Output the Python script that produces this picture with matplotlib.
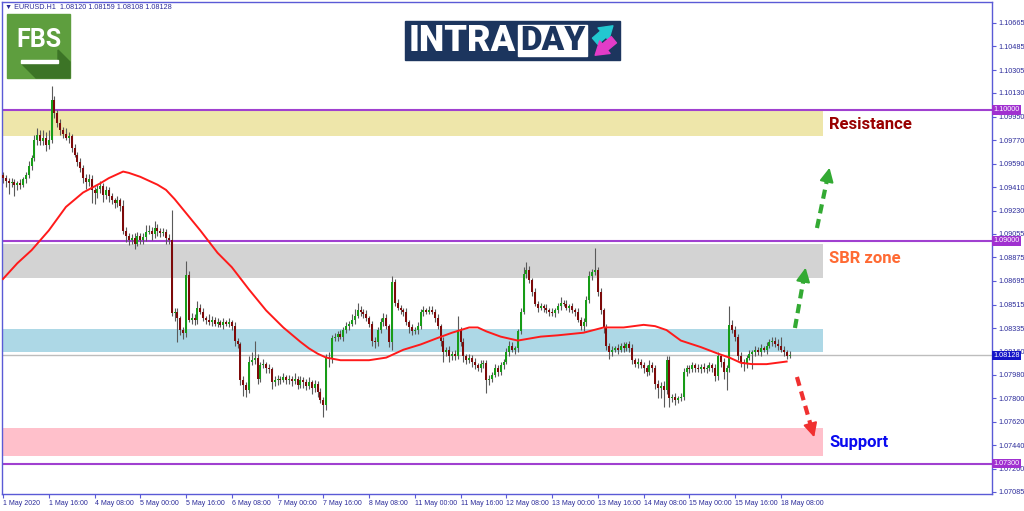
import matplotlib
matplotlib.use('Agg')
import numpy as np
import matplotlib.pyplot as plt
import matplotlib.transforms as mtransforms
from matplotlib.patches import Rectangle, Polygon

# ---- data (1 May - 18 May 2020) ----
first_open = 1.0950
closes = [
    1.0948, 1.0946, 1.0944, 1.0945, 1.0943, 1.0944, 1.0943, 1.0947, 1.0950, 1.0957,
    1.0963, 1.0977, 1.0981, 1.0976, 1.0979, 1.0973, 1.0977, 1.1008, 1.0998, 1.0990,
    1.0985, 1.0982, 1.0979, 1.0980, 1.0971, 1.0966, 1.0960, 1.0956, 1.0948, 1.0945,
    1.0947, 1.0939, 1.0937, 1.0940, 1.0942, 1.0935, 1.0939, 1.0934, 1.0931, 1.0929,
    1.0931, 1.0927, 1.0908, 1.0904, 1.0901, 1.0902, 1.0898, 1.0904, 1.0901, 1.0903,
    1.0907, 1.0908, 1.0905, 1.0910, 1.0908, 1.0906, 1.0907, 1.0902, 1.0901, 1.0845,
    1.0846, 1.0841, 1.0832, 1.0830, 1.0874, 1.0840, 1.0841, 1.0840, 1.0849, 1.0846,
    1.0841, 1.0840, 1.0838, 1.0840, 1.0837, 1.0838, 1.0836, 1.0838, 1.0837, 1.0838,
    1.0835, 1.0824, 1.0821, 1.0794, 1.0790, 1.0786, 1.0808, 1.0809, 1.0811, 1.0795,
    1.0805, 1.0806, 1.0803, 1.0802, 1.0792, 1.0794, 1.0795, 1.0794, 1.0796, 1.0794,
    1.0795, 1.0793, 1.0795, 1.0790, 1.0794, 1.0792, 1.0789, 1.0792, 1.0788, 1.0791,
    1.0785, 1.0779, 1.0775, 1.0811, 1.0810, 1.0826, 1.0827, 1.0829, 1.0827, 1.0832,
    1.0835, 1.0837, 1.0840, 1.0843, 1.0847, 1.0846, 1.0844, 1.0841, 1.0837, 1.0824,
    1.0823, 1.0832, 1.0838, 1.0841, 1.0835, 1.0823, 1.0869, 1.0853, 1.0849, 1.0847,
    1.0846, 1.0838, 1.0834, 1.0831, 1.0832, 1.0835, 1.0846, 1.0847, 1.0846, 1.0847,
    1.0846, 1.0841, 1.0835, 1.0824, 1.0815, 1.0817, 1.0812, 1.0814, 1.0812, 1.0832,
    1.0823, 1.0812, 1.0809, 1.0811, 1.0808, 1.0805, 1.0803, 1.0806, 1.0807, 1.0794,
    1.0795, 1.0798, 1.0803, 1.0800, 1.0805, 1.0808, 1.0815, 1.0820, 1.0817, 1.0818,
    1.0831, 1.0846, 1.0875, 1.0878, 1.0870, 1.0861, 1.0852, 1.0849, 1.0850, 1.0849,
    1.0847, 1.0846, 1.0845, 1.0847, 1.0850, 1.0853, 1.0852, 1.0849, 1.0850, 1.0847,
    1.0846, 1.0840, 1.0835, 1.0838, 1.0855, 1.0873, 1.0876, 1.0878, 1.0861, 1.0847,
    1.0834, 1.0820, 1.0815, 1.0817, 1.0818, 1.0817, 1.0820, 1.0818, 1.0821, 1.0818,
    1.0809, 1.0806, 1.0808, 1.0805, 1.0803, 1.0800, 1.0805, 1.0803, 1.0791, 1.0788,
    1.0789, 1.0786, 1.0809, 1.0780, 1.0781, 1.0779, 1.0780, 1.0781, 1.0800, 1.0803,
    1.0802, 1.0805, 1.0803, 1.0802, 1.0804, 1.0802, 1.0803, 1.0805, 1.0803, 1.0797,
    1.0812, 1.0808, 1.0800, 1.0803, 1.0836, 1.0832, 1.0827, 1.0812, 1.0808, 1.0806,
    1.0811, 1.0814, 1.0815, 1.0817, 1.0815, 1.0818, 1.0817, 1.0820, 1.0823, 1.0824,
    1.0821, 1.0820, 1.0817, 1.0815, 1.0812, 1.08128,
]
# wick lengths beyond the body, in pips
upper_wick = [
    3, 2, 2, 3, 2, 2, 3, 2, 3, 4,   3, 4, 5, 4, 6, 4, 8, 10, 3, 2,
    3, 2, 4, 3, 2, 3, 2, 3, 2, 3,   4, 3, 2, 3, 4, 2, 3, 2, 3, 2,
    3, 2, 4, 3, 2, 3, 4, 3, 2, 3,   5, 4, 3, 5, 3, 2, 3, 2, 3, 23,
    3, 3, 2, 2, 11, 3, 4, 3, 5, 3,  3, 2, 4, 3, 2, 3, 2, 3, 2, 3,
    2, 3, 2, 2, 3, 2, 4, 6, 13, 3,  3, 4, 2, 3, 2, 3, 3, 2, 3, 2,
    3, 2, 4, 2, 3, 2, 3, 4, 2, 3,   2, 3, 2, 3, 4, 2, 3, 2, 3, 2,
    3, 2, 4, 5, 6, 3, 2, 3, 2, 2,   3, 2, 3, 4, 3, 2, 4, 2, 3, 2,
    2, 3, 2, 3, 2, 3, 2, 3, 2, 3,   3, 2, 3, 2, 3, 2, 3, 2, 3, 11,
    2, 3, 2, 3, 2, 3, 2, 3, 2, 2,   3, 2, 3, 2, 3, 2, 3, 4, 3, 2,
    2, 3, 5, 6, 3, 2, 3, 2, 3, 2,   3, 2, 3, 2, 3, 4, 2, 3, 2, 3,
    2, 3, 2, 3, 3, 4, 3, 17, 2, 3,  2, 3, 2, 3, 2, 3, 2, 3, 2, 3,
    3, 2, 3, 2, 3, 2, 4, 3, 2, 3,   3, 4, 3, 3, 2, 3, 2, 3, 3, 2,
    2, 3, 2, 3, 2, 3, 2, 3, 2, 3,   3, 2, 3, 2, 14, 4, 3, 2, 3, 2,
    2, 3, 2, 3, 2, 3, 2, 3, 2, 3,   3, 4, 7, 3, 2, 3,
]
lower_wick = [
    4, 5, 8, 3, 9, 4, 3, 2, 3, 2,   3, 2, 4, 3, 3, 4, 3, 2, 4, 3,
    4, 3, 2, 4, 3, 2, 3, 3, 4, 5,   3, 10, 9, 4, 3, 5, 3, 4, 3, 4,
    3, 4, 3, 5, 4, 3, 4, 2, 3, 3,   3, 2, 4, 3, 4, 3, 2, 4, 3, 2,
    6, 18, 4, 5, 3, 2, 3, 4, 3, 2,  2, 3, 2, 3, 2, 3, 2, 3, 2, 3,
    3, 4, 3, 4, 8, 5, 2, 3, 3, 4,   3, 2, 4, 3, 5, 3, 4, 3, 2, 3,
    3, 4, 2, 3, 2, 4, 3, 2, 5, 3,   4, 3, 9, 4, 6, 3, 2, 3, 2, 3,
    2, 3, 2, 3, 2, 3, 3, 2, 3, 4,   5, 3, 2, 3, 2, 4, 6, 3, 2, 3,
    3, 2, 4, 3, 2, 3, 2, 3, 2, 2,   2, 3, 2, 4, 7, 3, 4, 3, 3, 2,
    3, 4, 3, 2, 4, 3, 2, 3, 3, 10,  4, 3, 2, 3, 2, 3, 2, 3, 2, 3,
    3, 2, 2, 3, 2, 3, 2, 3, 2, 3,   2, 3, 2, 3, 2, 3, 2, 2, 3, 2,
    3, 2, 3, 4, 3, 2, 3, 2, 3, 3,   4, 3, 5, 3, 2, 3, 2, 3, 2, 3,
    3, 2, 3, 2, 4, 3, 2, 3, 4, 8,   8, 13, 3, 7, 3, 4, 3, 2, 2, 3,
    3, 2, 3, 2, 3, 2, 3, 2, 3, 4,   3, 4, 5, 14, 3, 2, 3, 3, 4, 5,
    3, 2, 12, 3, 2, 3, 2, 3, 2, 3,  2, 3, 2, 3, 2, 1,
]

# moving average (red line), sampled at bar numbers
ma_bar = [0, 5, 10, 16, 22, 28, 34, 37, 40, 42, 44, 48, 51, 54, 57, 60, 63, 69, 75, 80,
          86, 92, 98, 104, 107, 110, 113, 118, 123, 128, 134, 140, 146, 152, 157, 160, 163,
          166, 169, 174, 180, 188, 194, 203, 210, 217, 224, 228, 232, 237, 244, 250, 254,
          258, 262, 267, 274]
ma_vals = [1.0871, 1.0883, 1.0893, 1.0908, 1.0926, 1.0937, 1.0944, 1.0948, 1.0951, 1.0953,
           1.0952, 1.0949, 1.0946, 1.0943, 1.0939, 1.0932, 1.0924, 1.0908, 1.0891, 1.0880,
           1.0863, 1.0847, 1.0834, 1.0823, 1.0818, 1.0814, 1.0811, 1.0809, 1.0809, 1.0809,
           1.0811, 1.0817, 1.0821, 1.0826, 1.0830, 1.0832, 1.0834, 1.0834, 1.0831, 1.0827,
           1.0824, 1.0827, 1.0828, 1.0830, 1.0834, 1.0834, 1.0836, 1.0835, 1.0832, 1.0824,
           1.0819, 1.0814, 1.0811, 1.0807, 1.0806, 1.0806, 1.0808]

time_labels = ['1 May 2020', '1 May 16:00', '4 May 08:00', '5 May 00:00', '5 May 16:00',
               '6 May 08:00', '7 May 00:00', '7 May 16:00', '8 May 08:00', '11 May 00:00',
               '11 May 16:00', '12 May 08:00', '13 May 00:00', '13 May 16:00', '14 May 08:00',
               '15 May 00:00', '15 May 16:00', '18 May 08:00']
price_ticks = [1.10665, 1.10485, 1.10305, 1.10130, 1.09950, 1.09770, 1.09590, 1.09410,
               1.09230, 1.09055, 1.08875, 1.08695, 1.08515, 1.08335, 1.08160, 1.07980,
               1.07800, 1.07620, 1.07440, 1.07260, 1.07085]

zone_low = [1.0980, 1.0872, 1.0815, 1.0736]
zone_high = [1.0999, 1.0898, 1.0833, 1.0757]
zone_colors = ['#EEE6AA', '#D3D3D3', '#ADD8E6', '#FFC0CB']
levels = [1.1000, 1.0900, 1.0730]
bid = 1.08128

zone_labels = ['Resistance', 'SBR zone', 'Support']
zone_label_y = [1.0989, 1.0887, 1.0746]
zone_label_colors = ['#990000', '#FF6A33', '#0A0AF0']

# arrows: (bar start, price start, bar end, price end)
arrows = [(276.9, 1.08336, 280.8, 1.08817, '#33AA33'),
          (284.6, 1.09099, 289.2, 1.09580, '#33AA33'),
          (277.6, 1.07962, 283.9, 1.07481, '#F03030')]

frame = '#5a5ad6'
txtc = '#2b2b9a'
small = ['Liberation Sans', 'DejaVu Sans']

opens = [first_open] + closes[:-1]
highs = [max(o, c) + u / 10000 for o, c, u in zip(opens, closes, upper_wick)]
lows = [min(o, c) - w / 10000 for o, c, w in zip(opens, closes, lower_wick)]

o = np.array(opens)
c = np.array(closes)
bars = np.arange(len(closes))
body = c - o
body = np.where(np.abs(body) < 0.00005, np.where(body >= 0, 0.00005, -0.00005), body)
bull = c >= o

fig = plt.figure(figsize=(10.24, 5.11), dpi=100)
ax = fig.add_axes([2 / 1024, 17 / 511, 990 / 1024, 492 / 511])
ax.set_xlim(-0.35, 345.8)
ax.set_ylim(1.070687, 1.108244)

for lo, hi, col in zip(zone_low, zone_high, zone_colors):
    ax.fill_between([-0.35, 286.7], lo, hi, color=col, lw=0, zorder=1)
for lv in levels:
    ax.axhline(lv, color='#A040D0', lw=1.5, zorder=2)
ax.axhline(bid, color='#BDBDBD', lw=1.0, zorder=2)

ax.vlines(bars, lows, highs, color='#5a5a5a', lw=0.8, zorder=3)
ax.bar(bars[bull], body[bull], bottom=o[bull], width=0.7, color='#179c17', lw=0, zorder=4)
ax.bar(bars[~bull], body[~bull], bottom=o[~bull], width=0.7, color='#7d0a0a', lw=0, zorder=4)
ax.plot(ma_bar, ma_vals, color='#ff1a1a', lw=1.4, zorder=5)

for x0, y0, x1, y1, col in arrows:
    xm, ym = x0 + 0.82 * (x1 - x0), y0 + 0.82 * (y1 - y0)
    ax.plot([x0, xm], [y0, ym], color=col, lw=3, ls=(0, (2.2, 1.4)), zorder=6)
    ax.annotate('', xy=(x1, y1), xytext=(xm, ym),
                arrowprops=dict(arrowstyle='-|>,head_length=0.6,head_width=0.3',
                                color=col, lw=1.5, mutation_scale=14), zorder=6)

for lab, y, col in zip(zone_labels, zone_label_y, zone_label_colors):
    ax.text(288.8, y, lab, color=col, fontsize=12, fontweight='bold', family='Roboto',
            va='center', ha='left', zorder=7)

# axes styling
for s in ax.spines.values():
    s.set_color(frame)
    s.set_linewidth(1)
ax.yaxis.tick_right()
ax.set_yticks(price_ticks)
ax.set_yticklabels(['%.5f' % p for p in price_ticks], fontsize=5.2, color=txtc, family=small)
ax.set_xticks(np.arange(len(time_labels)) * 16)
ax.set_xticklabels(time_labels, fontsize=5, color=txtc, family=small)
for lab in ax.get_xticklabels():
    lab.set_horizontalalignment('left')
ax.tick_params(axis='both', length=3, color=frame, pad=1.5, width=0.8)

trans = mtransforms.blended_transform_factory(ax.transAxes, ax.transData)
for lv in levels:
    ax.text(1.0015, lv, '%.5f' % lv, transform=trans, fontsize=5.2, color='white', family=small,
            va='center', ha='left', clip_on=False, zorder=10,
            bbox=dict(facecolor='#A030D0', edgecolor='none', pad=0.9))
ax.text(1.0015, bid, '%.5f' % bid, transform=trans, fontsize=5.2, color='white', family=small,
        va='center', ha='left', clip_on=False, zorder=10,
        bbox=dict(facecolor='#1515C8', edgecolor='none', pad=0.9))

fig.text(5 / 1024, 1 - 7 / 511, '\u25bc EURUSD.H1  1.08120 1.08159 1.08108 1.08128',
         fontsize=5.2, color=txtc, family=small, va='center')

# logos, drawn in pixel coordinates on an overlay
ov = fig.add_axes([0, 0, 1, 1], zorder=5)
ov.set_xlim(0, 1024)
ov.set_ylim(511, 0)
ov.axis('off')
ov.patch.set_alpha(0)

ov.add_patch(Rectangle((7, 14), 63, 64, color='#5E9E3E'))
ov.add_patch(Polygon([(22, 64), (58, 64), (58, 50), (70, 62), (70, 78), (36, 78)], color='#3C7426'))
ov.text(39, 40, 'FBS', color='white', fontsize=18, fontweight='bold', family='Roboto',
        ha='center', va='center')
ov.add_patch(Rectangle((21, 60), 37, 3, color='white'))

ov.add_patch(Rectangle((405, 21), 215, 39, color='#1C355E'))
ov.text(409, 41, 'INTRA', color='white', fontsize=26, fontweight='black', family='Roboto',
        ha='left', va='center')
ov.add_patch(Rectangle((518, 25), 69, 31, color='white'))
ov.text(552.5, 41, 'DAY', color='#1C355E', fontsize=24, fontweight='black', family='Roboto',
        ha='center', va='center')
ov.annotate('', xy=(615, 24), xytext=(593, 43),
            arrowprops=dict(arrowstyle='simple,head_length=0.7,head_width=0.9,tail_width=0.45',
                            color='#22C8D0', mutation_scale=13))
ov.annotate('', xy=(593, 57), xytext=(616, 38),
            arrowprops=dict(arrowstyle='simple,head_length=0.7,head_width=0.9,tail_width=0.45',
                            color='#E23CC8', mutation_scale=13))

fig.savefig('out.png', dpi=100)
